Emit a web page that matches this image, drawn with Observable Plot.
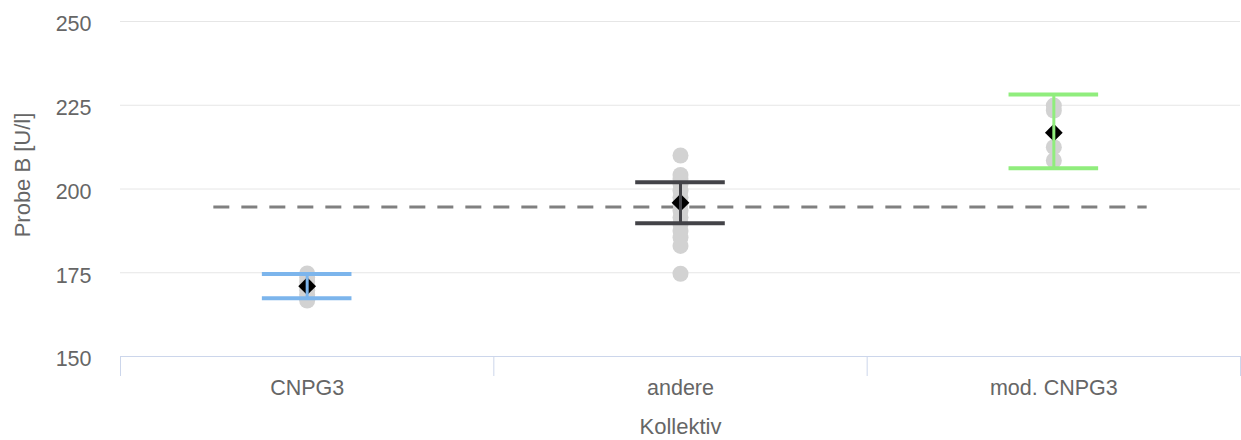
<!DOCTYPE html>
<html>
<head>
<meta charset="utf-8">
<script src="https://cdn.jsdelivr.net/npm/d3@7"></script>
<script src="https://cdn.jsdelivr.net/npm/@observablehq/plot@0.6"></script>
<style>
  html, body { margin: 0; padding: 0; background: #fff; }
  #chart { width: 1241px; height: 440px; }
</style>
</head>
<body>
<div id="chart"></div>
<script>
const categories = ["CNPG3", "andere", "mod. CNPG3"];
const seriesColors = ["#7cb5ec", "#434348", "#90ed7d"];
const means = [171.0, 195.9, 216.8];
const lows = [167.4, 189.8, 206.2];
const highs = [174.6, 202.0, 228.2];
const pointsCNPG3 = [174.8, 173.6, 172.3, 171.0, 169.8, 168.5, 167.4, 166.7];
const pointsAndere = [210.0, 204.2, 203.0, 201.5, 199.5, 197.5, 195.5, 193.5, 191.5, 189.5, 187.5, 185.5, 183.0, 174.7];
const pointsMod = [224.9, 223.4, 212.5, 208.5];
const referenceValue = 194.6;
const referenceFrom = 0.25;
const referenceTo = 2.75;
const yTicks = [150, 175, 200, 225, 250];
const xLabel = "Kollektiv";
const yLabel = "Probe B [U/l]";

const pointSets = [pointsCNPG3, pointsAndere, pointsMod];
const points = pointSets.flatMap((vals, i) => vals.map(v => ({i, v})));
const groups = categories.map((c, i) => ({i, c, mean: means[i], low: lows[i], high: highs[i], color: seriesColors[i]}));
const capHalf = 0.12;

const chart = Plot.plot({
  width: 1241,
  height: 440,
  marginLeft: 120,
  marginRight: 1,
  marginTop: 21,
  marginBottom: 84,
  style: {fontFamily: "'Liberation Sans', Arial, sans-serif", background: "#fff"},
  x: {type: "linear", domain: [0, categories.length], axis: null},
  y: {domain: [150, 250], axis: null},
  marks: [
    Plot.ruleY(yTicks.filter(t => t !== 150), {stroke: "#e6e6e6", strokeWidth: 1}),
    Plot.ruleY([150], {stroke: "#ccd6eb", strokeWidth: 1}),
    Plot.axisX({ticks: d3.range(categories.length + 1), tickFormat: () => "", tickSize: 20, stroke: "#ccd6eb", strokeWidth: 1}),
    Plot.axisX({ticks: categories.map((c, i) => i + 0.5), tickFormat: d => categories[Math.floor(d)], tickSize: 0, tickPadding: 23, fontSize: "21.5px", fill: "#666666", label: null}),
    Plot.axisY({ticks: yTicks, tickSize: 0, tickPadding: 29, fontSize: "21.5px", fill: "#666666", dy: 3, label: null}),
    Plot.text([xLabel], {frameAnchor: "bottom", dy: 77, fontSize: 22, fill: "#666666"}),
    Plot.text([yLabel], {frameAnchor: "left", textAnchor: "middle", rotate: -90, dx: -97.5, dy: -14, fontSize: 22, fill: "#666666"}),
    Plot.ruleY([referenceValue], {x1: referenceFrom, x2: referenceTo, stroke: "#808080", strokeWidth: 3, strokeDasharray: "16,12"}),
    Plot.dot(points, {x: d => d.i + 0.5, y: "v", r: 8, fill: "#d2d2d2", stroke: "none"}),
    Plot.dot(groups, {x: d => d.i + 0.5, y: "mean", symbol: "diamond2", r: 8, fill: "#000000", stroke: "none"}),
    Plot.ruleX(groups, {x: d => d.i + 0.5, y1: "low", y2: "high", stroke: "color", strokeWidth: 3}),
    Plot.ruleY(groups, {y: "high", x1: d => d.i + 0.5 - capHalf, x2: d => d.i + 0.5 + capHalf, stroke: "color", strokeWidth: 4}),
    Plot.ruleY(groups, {y: "low", x1: d => d.i + 0.5 - capHalf, x2: d => d.i + 0.5 + capHalf, stroke: "color", strokeWidth: 4})
  ]
});
document.getElementById("chart").appendChild(chart);
</script>
</body>
</html>
